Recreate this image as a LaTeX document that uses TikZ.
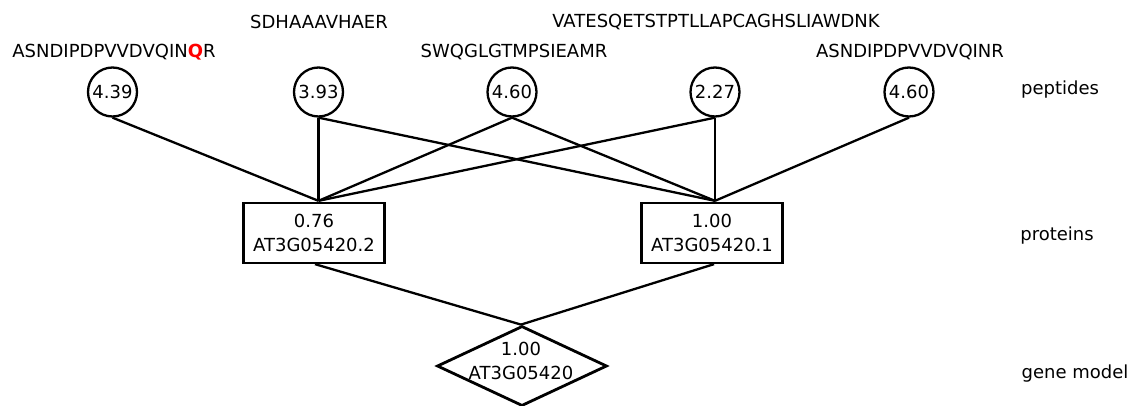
\documentclass[tikz,border=0pt]{standalone}
\usepackage{fontspec}
\setmainfont{DejaVu Sans}
\usetikzlibrary{shapes.geometric}
\tikzset{
  every node/.style={font=\fontsize{18}{24.5}\selectfont},
  pep/.style={circle, draw, line width=2.3pt, minimum size=49pt, inner sep=0pt},
  prot/.style={rectangle, draw, line width=2.3pt, minimum width=141pt, minimum height=60pt, inner sep=0pt, align=center},
  gene/.style={diamond, draw, line width=2.8pt, minimum width=170pt, minimum height=80pt, inner sep=0pt},
  seq/.style={inner sep=0pt, anchor=center},
  tier/.style={inner sep=0pt, anchor=center},
  link/.style={line width=2.3pt},
}
\begin{document}
\begin{tikzpicture}[x=1pt, y=-1pt]
  \useasboundingbox (0,0) rectangle (1132,406);

  % peptide nodes with their scores
  \node[pep] (p1) at (112.5,92) {4.39};
  \node[pep] (p2) at (318.5,92) {3.93};
  \node[pep] (p3) at (512,92) {4.60};
  \node[pep] (p4) at (715,92) {2.27};
  \node[pep] (p5) at (909,92) {4.60};

  % peptide sequences
  \node[seq] (s1) at (114,52) {ASNDIPDPVVDVQIN\textcolor{red}{\textbf{Q}}R};
  \node[seq] (s2) at (319,22) {SDHAAAVHAER};
  \node[seq] (s3) at (514,52) {SWQGLGTMPSIEAMR};
  \node[seq] (s4) at (716,22) {VATESQETSTPTLLAPCAGHSLIAWDNK};
  \node[seq] (s5) at (910,52) {ASNDIPDPVVDVQINR};

  % protein isoforms
  \node[prot] (b1) at (314,233) {0.76\\AT3G05420.2};
  \node[prot] (b2) at (712,233) {1.00\\AT3G05420.1};

  % gene model
  \node[gene] (g) at (522,366) {};
  \node[inner sep=0pt, align=center] (gt) at (521,361) {1.00\\AT3G05420};

  % tier labels
  \node[tier] (t1) at (1060,90) {peptides};
  \node[tier] (t2) at (1057,236) {proteins};
  \node[tier] (t3) at (1075,374) {gene model};

  % peptide -> protein links
  \coordinate (b1in) at ([xshift=4.5pt,yshift=1pt]b1.north);
  \coordinate (b2in) at ([xshift=3pt,yshift=1pt]b2.north);
  \draw[link] (p1.south) -- (b1in);
  \draw[link] (p2.south) -- (b1in);
  \draw[link] (p3.south) -- (b1in);
  \draw[link] (p4.south) -- (b1in);
  \draw[link] (p2.south) -- (b2in);
  \draw[link] (p3.south) -- (b2in);
  \draw[link] (p4.south) -- (b2in);
  \draw[link] (p5.south) -- (b2in);

  % protein -> gene links
  \draw[link] ([xshift=1pt]b1.south) -- ([xshift=-1pt]g.north);
  \draw[link] ([xshift=2pt]b2.south) -- ([xshift=-1pt]g.north);
\end{tikzpicture}
\end{document}
